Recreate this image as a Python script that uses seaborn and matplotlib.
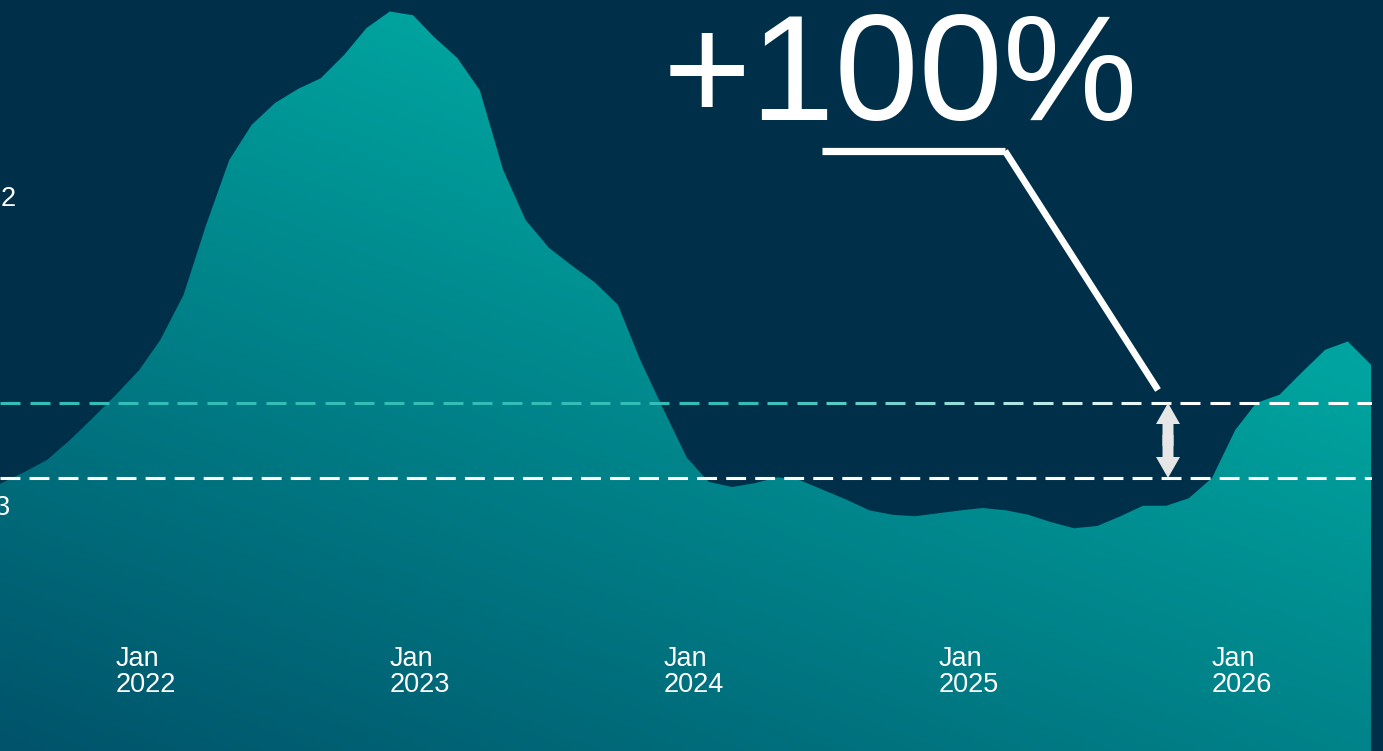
import numpy as np
import pandas as pd
import matplotlib
matplotlib.use('Agg')
import matplotlib.pyplot as plt
import matplotlib.dates as mdates
import seaborn as sns
from matplotlib.collections import LineCollection
from matplotlib.colors import LinearSegmentedColormap, to_rgb

# dados (indice: linha de baixo = 1, linha de cima = 2 -> +100%)
meses = pd.date_range('2021-07-01', '2026-08-01', freq='MS')
valores = [0.77, 0.93, 1.08, 1.24, 1.51, 1.80, 2.11, 2.44, 2.84, 3.44, 4.37, 5.24,
           5.71, 6.00, 6.19, 6.33, 6.64, 7.00, 7.22, 7.17, 6.88, 6.60, 6.17, 5.11,
           4.44, 4.07, 3.83, 3.61, 3.31, 2.57, 1.91, 1.27, 0.95, 0.88, 0.93, 1.01,
           0.97, 0.84, 0.71, 0.57, 0.51, 0.49, 0.53, 0.57, 0.60, 0.57, 0.51, 0.41,
           0.33, 0.36, 0.49, 0.63, 0.63, 0.73, 1.00, 1.64, 2.00, 2.11, 2.41, 2.71,
           2.82, 2.51]
nivel_base = 1.0
nivel_alto = 2.0
anos = [2022, 2023, 2024, 2025, 2026]
ticks_y = ['2', '3']
destaque = '+100%'

fundo = '#003049'
W, H = 1383, 751
AX_W = 1372

sns.set_theme(style='white')
plt.rcParams['font.family'] = ['Liberation Sans', 'DejaVu Sans']

fig = plt.figure(figsize=(W / 100, H / 100), dpi=100, facecolor=fundo)
ax = fig.add_axes([0, 0, AX_W / W, 1])
ax.set_facecolor(fundo)
for s in ax.spines.values():
    s.set_visible(False)

df = pd.DataFrame({'mes': meses, 'valor': valores})
sns.lineplot(data=df, x='mes', y='valor', ax=ax, linewidth=0, legend=False)

# limites: pixel -> dado
jan22 = mdates.date2num(pd.Timestamp('2022-01-01'))
px_dia = 274 / 365.25
px_val = 75
x0 = jan22 - 116 / px_dia
x1 = jan22 + (AX_W - 116) / px_dia
y_bot = nivel_base - (H - 478) / px_val
y_top = nivel_base + 478 / px_val
ax.set_xlim(x0, x1)
ax.set_ylim(y_bot, y_top)
ax.set_autoscale_on(False)

# area com gradiente
poly = ax.fill_between(df['mes'], df['valor'], y_bot - 1, facecolor='none', edgecolor='none')
cmap = LinearSegmentedColormap.from_list('g', ['#00536a', '#00a39f'])
u, v = np.meshgrid(np.linspace(0, 1, 300), np.linspace(0, 1, 300))
t = np.clip(0.6 * u + 0.84 * v, 0, 1)
im = ax.imshow(t, cmap=cmap, vmin=0, vmax=1, origin='lower', extent=[0, 1, 0, 1],
               transform=ax.transAxes, aspect='auto', zorder=1, interpolation='bilinear')
im.set_clip_path(poly.get_paths()[0], ax.transData)
ax.set_xlim(x0, x1)
ax.set_ylim(y_bot, y_top)

# linhas tracejadas
ax.axhline(nivel_base, color='white', lw=2.2, ls=(0, (6.5, 3.0)), zorder=3)
dash_on, periodo = 20, 29.5
starts = np.arange(0, AX_W, periodo)
segs = [[(s / AX_W, nivel_alto), (min(s + dash_on, AX_W) / AX_W, nivel_alto)] for s in starts]
teal = np.array(to_rgb('#33bdb7'))
branco = np.array([1, 1, 1])
cores = [teal + (branco - teal) * np.clip((s - 750) / 420, 0, 1) for s in starts]
lc = LineCollection(segs, colors=cores, linewidths=2.2, zorder=3,
                    transform=ax.get_yaxis_transform(), capstyle='butt')
ax.add_collection(lc)

# seta dupla (duas setas sobrepostas no meio)
xa = x0 + 1168 / px_dia
meio = (nivel_base + nivel_alto) / 2
for alvo in (nivel_alto, nivel_base):
    inicio = meio - 0.15 * (alvo - meio)
    ax.arrow(xa, inicio, 0, alvo - inicio, width=11 / px_dia, head_width=24 / px_dia,
             head_length=21 / px_val, length_includes_head=True,
             color='#e6e6e6', lw=0, zorder=4)

# linha de anotacao
px = np.array([822, 1005, 1158]) / AX_W
py = 1 - np.array([151, 151, 390]) / H
ax.plot(px[:2], py[:2], color='white', lw=5.2, transform=ax.transAxes,
        solid_capstyle='butt', zorder=5)
ax.plot(px[1:], py[1:], color='white', lw=4.8, transform=ax.transAxes,
        solid_capstyle='butt', zorder=5)

# texto grande
ax.text(663 / AX_W, 1 - 120 / H, destaque, color='white', fontsize=109,
        ha='left', va='baseline', transform=ax.transAxes, zorder=6)

# rotulos eixo x
trans = ax.get_xaxis_transform()
for a in anos:
    ax.text(mdates.date2num(pd.Timestamp(f'{a}-01-01')), 1 - 646 / H, f'Jan\n{a}',
            color='white', fontsize=19.5, ha='left', va='top', linespacing=1.0,
            transform=trans, zorder=6)

# rotulos eixo y (cortados na borda)
ax.text(16 / AX_W, 1 - 199 / H, ticks_y[0], color='white', fontsize=19.5,
        ha='right', va='center', transform=ax.transAxes, zorder=6)
ax.text(10 / AX_W, 1 - 508 / H, ticks_y[1], color='white', fontsize=19.5,
        ha='right', va='center', transform=ax.transAxes, zorder=6)

ax.set_xticks([])
ax.set_yticks([])
ax.set_xlabel('')
ax.set_ylabel('')

fig.savefig('out.png', dpi=100, facecolor=fundo)
